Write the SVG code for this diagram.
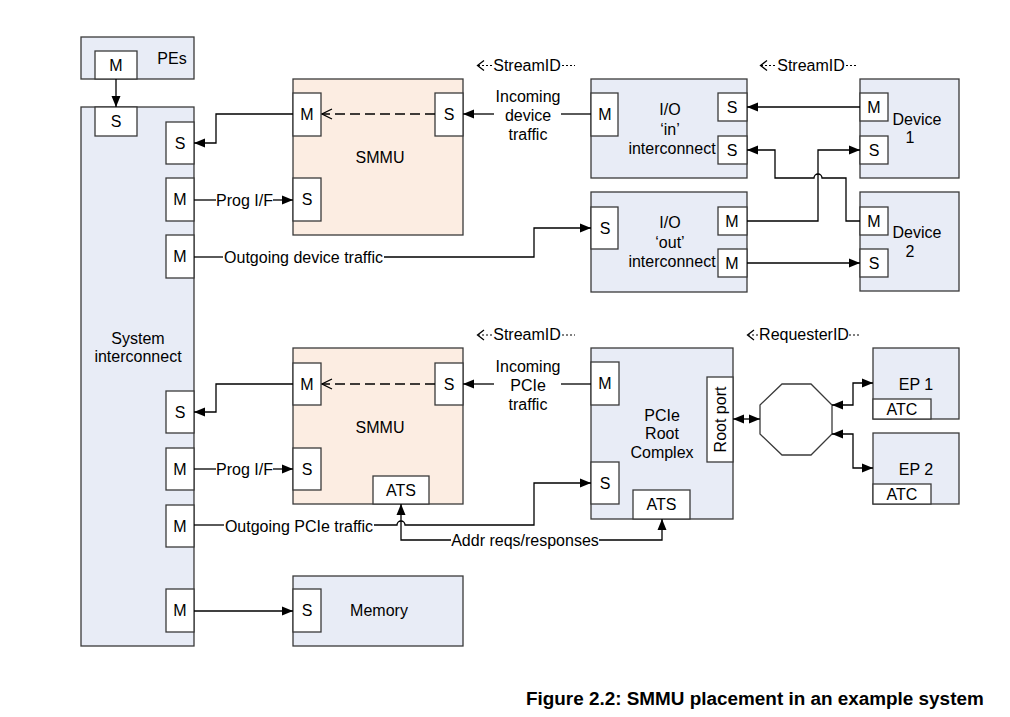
<svg xmlns="http://www.w3.org/2000/svg" width="1010" height="717" viewBox="0 0 1010 717">
<style>
text{font-family:"Liberation Sans",Arial,sans-serif;font-size:16px;fill:#000;text-anchor:middle}
.blue{fill:#e8ecf6;stroke:#3a3a3a;stroke-width:1.3}
.peach{fill:#fcede2;stroke:#3a3a3a;stroke-width:1.3}
.port{fill:#fff;stroke:#3a3a3a;stroke-width:1.3}
.c{fill:none;stroke:#000;stroke-width:1.3}
.a{marker-end:url(#arr)}
.d{marker-start:url(#arr);marker-end:url(#arr)}
.dash{fill:none;stroke:#000;stroke-width:1.3;stroke-dasharray:10,5;marker-end:url(#open)}
.dot{fill:none;stroke:#000;stroke-width:1;stroke-dasharray:2,2}
.cap{font-weight:bold;font-size:18.9px;text-anchor:start}
</style>
<defs>
<marker id="arr" markerUnits="userSpaceOnUse" markerWidth="12" markerHeight="10" refX="11" refY="5" orient="auto-start-reverse">
<path d="M0,0.5 L11,5 L0,9.5 Z" fill="#000"/>
</marker>
<marker id="open" markerUnits="userSpaceOnUse" markerWidth="12" markerHeight="12" refX="11" refY="6" orient="auto">
<path d="M1,1 L11,6 L1,11" fill="none" stroke="#000" stroke-width="1.3"/>
</marker>
</defs>
<rect width="1010" height="717" fill="#fff"/>

<g id="pes">
<rect class="blue" x="81" y="37" width="113" height="42"/>
<rect class="port" x="95" y="51" width="42" height="28"/>
<text x="116" y="71">M</text>
<text x="172" y="64">PEs</text>
</g>

<g id="system-interconnect">
<rect class="blue" x="81" y="107" width="113" height="539"/>
<rect class="port" x="95" y="107" width="42" height="29"/>
<text x="116" y="127">S</text>
<rect class="port" x="166" y="122" width="28" height="42"/>
<text x="180" y="149">S</text>
<rect class="port" x="166" y="178" width="28" height="43"/>
<text x="180" y="205">M</text>
<rect class="port" x="166" y="235" width="28" height="43"/>
<text x="180" y="262">M</text>
<rect class="port" x="166" y="391" width="28" height="42"/>
<text x="180" y="418">S</text>
<rect class="port" x="166" y="448" width="28" height="42"/>
<text x="180" y="475">M</text>
<rect class="port" x="166" y="505" width="28" height="42"/>
<text x="180" y="532">M</text>
<rect class="port" x="166" y="589" width="28" height="43"/>
<text x="180" y="616">M</text>
<text x="138" y="344">System</text>
<text x="138" y="362">interconnect</text>
</g>

<g id="smmu1">
<rect class="peach" x="293" y="79" width="170" height="156"/>
<rect class="port" x="293" y="93" width="28" height="43"/>
<text x="307" y="120">M</text>
<rect class="port" x="435" y="93" width="28" height="43"/>
<text x="449" y="120">S</text>
<rect class="port" x="293" y="178" width="28" height="43"/>
<text x="307" y="205">S</text>
<text x="380" y="163">SMMU</text>
</g>

<g id="smmu2">
<rect class="peach" x="293" y="348" width="170" height="156"/>
<rect class="port" x="293" y="363" width="28" height="42"/>
<text x="307" y="390">M</text>
<rect class="port" x="435" y="363" width="28" height="42"/>
<text x="449" y="390">S</text>
<rect class="port" x="293" y="448" width="28" height="42"/>
<text x="307" y="475">S</text>
<rect class="port" x="373" y="476" width="56" height="28"/>
<text x="401" y="496">ATS</text>
<text x="380" y="433">SMMU</text>
</g>

<g id="memory">
<rect class="blue" x="293" y="576" width="170" height="70"/>
<rect class="port" x="293" y="589" width="28" height="43"/>
<text x="307" y="616">S</text>
<text x="379" y="616">Memory</text>
</g>

<g id="io-in">
<rect class="blue" x="591" y="79" width="156" height="99"/>
<rect class="port" x="591" y="93" width="27" height="43"/>
<text x="605" y="120">M</text>
<rect class="port" x="718" y="93" width="29" height="28"/>
<text x="732" y="113">S</text>
<rect class="port" x="718" y="136" width="29" height="28"/>
<text x="732" y="156">S</text>
<text x="670" y="115">I/O</text>
<text x="670" y="135">‘in’</text>
<text x="672" y="154">interconnect</text>
</g>

<g id="io-out">
<rect class="blue" x="591" y="192" width="156" height="100"/>
<rect class="port" x="591" y="207" width="27" height="42"/>
<text x="605" y="234">S</text>
<rect class="port" x="718" y="207" width="29" height="28"/>
<text x="732" y="227">M</text>
<rect class="port" x="718" y="249" width="29" height="28"/>
<text x="732" y="269">M</text>
<text x="670" y="228">I/O</text>
<text x="670" y="248">‘out’</text>
<text x="672" y="267">interconnect</text>
</g>

<g id="device1">
<rect class="blue" x="860" y="79" width="99" height="99"/>
<rect class="port" x="860" y="93" width="28" height="28"/>
<text x="874" y="113">M</text>
<rect class="port" x="860" y="136" width="28" height="28"/>
<text x="874" y="156">S</text>
<text x="917" y="125">Device</text>
<text x="910" y="143">1</text>
</g>

<g id="device2">
<rect class="blue" x="860" y="192" width="99" height="99"/>
<rect class="port" x="860" y="207" width="28" height="28"/>
<text x="874" y="227">M</text>
<rect class="port" x="860" y="249" width="28" height="28"/>
<text x="874" y="269">S</text>
<text x="917" y="238">Device</text>
<text x="910" y="257">2</text>
</g>

<g id="pcie-root-complex">
<rect class="blue" x="591" y="348" width="142" height="171"/>
<rect class="port" x="591" y="362" width="28" height="43"/>
<text x="605" y="389">M</text>
<rect class="port" x="591" y="462" width="28" height="42"/>
<text x="605" y="489">S</text>
<rect class="port" x="633" y="490" width="57" height="29"/>
<text x="661.5" y="510">ATS</text>
<rect class="port" x="707" y="377" width="26" height="85"/>
<text transform="translate(725.5,419.5) rotate(-90)">Root port</text>
<text x="662" y="421">PCIe</text>
<text x="662" y="439">Root</text>
<text x="662" y="458">Complex</text>
</g>

<g id="switch">
<polygon points="782,384 811,384 832,405 832,434 811,455 782,455 760,434 760,405" fill="#fff" stroke="#3a3a3a" stroke-width="1.3"/>
</g>

<g id="ep1">
<rect class="blue" x="873" y="348" width="86" height="71"/>
<rect class="port" x="873" y="399" width="58" height="20"/>
<text x="902" y="415">ATC</text>
<text x="916" y="390">EP 1</text>
</g>

<g id="ep2">
<rect class="blue" x="873" y="433" width="86" height="71"/>
<rect class="port" x="873" y="484" width="58" height="20"/>
<text x="902" y="500">ATC</text>
<text x="916" y="475">EP 2</text>
</g>

<g id="id-labels">
<path class="c" d="M484,60.5 L477.5,65.5 L484,70.5"/>
<path class="dot" d="M478,65.5 H492"/>
<text x="527" y="70.5">StreamID</text>
<path class="dot" d="M562,65.5 H575"/>
<path class="c" d="M767,60.5 L760.5,65.5 L767,70.5"/>
<path class="dot" d="M761,65.5 H776"/>
<text x="811" y="70.5">StreamID</text>
<path class="dot" d="M846,65.5 H858"/>
<path class="c" d="M484,330 L477.5,335 L484,340"/>
<path class="dot" d="M478,335 H492"/>
<text x="527" y="340">StreamID</text>
<path class="dot" d="M562,335 H575"/>
<path class="c" d="M754,330 L747.5,335 L754,340"/>
<path class="dot" d="M748,335 H759"/>
<text x="804" y="340">RequesterID</text>
<path class="dot" d="M849,335 H861"/>
</g>

<g id="connectors">
<path class="c a" d="M116,79 V107"/>
<path class="c a" d="M293,114 H216 V143 H194"/>
<path class="dash" d="M435,114 H322"/>
<path class="c" d="M194,200 H216"/>
<path class="c a" d="M273,200 H293"/>
<path class="c" d="M194,257 H223"/>
<path class="c a" d="M384,257 H534 V228 H591"/>
<path class="c" d="M591,114 H561"/>
<path class="c a" d="M494,114 H463"/>
<path class="c a" d="M860,107 H747"/>
<path class="c a" d="M860,221 H846 V178 H822 A4,4 0 0 0 814,178 H775 V150 H747"/>
<path class="c a" d="M747,221 H818 V150 H860"/>
<path class="c a" d="M747,263 H860"/>
<path class="c a" d="M293,384 H216 V412 H194"/>
<path class="dash" d="M435,384 H322"/>
<path class="c" d="M194,469 H216"/>
<path class="c a" d="M273,469 H293"/>
<path class="c" d="M591,384 H561"/>
<path class="c a" d="M494,384 H463"/>
<path class="c" d="M194,525 H224"/>
<path class="c a" d="M374,525 H397 A4,4 0 0 1 405,525 H534 V483 H591"/>
<path class="c a" d="M451,540 H401 V504"/>
<path class="c a" d="M599,540 H662 V519"/>
<path class="c d" d="M733,419 H760"/>
<path class="c d" d="M832,405 H853 V383 H873"/>
<path class="c d" d="M832,434 H853 V468 H873"/>
<path class="c a" d="M194,611 H293"/>
</g>

<g id="connector-labels">
<text x="244.5" y="205.5">Prog I/F</text>
<text x="244.5" y="474.5">Prog I/F</text>
<text x="303.5" y="262.5">Outgoing device traffic</text>
<text x="299" y="531.5">Outgoing PCIe traffic</text>
<text x="525" y="545.5">Addr reqs/responses</text>
<text x="528" y="102">Incoming</text>
<text x="528" y="121">device</text>
<text x="528" y="140">traffic</text>
<text x="528" y="372">Incoming</text>
<text x="528" y="391">PCIe</text>
<text x="528" y="409.5">traffic</text>
</g>

<text class="cap" x="526" y="705">Figure 2.2: SMMU placement in an example system</text>
</svg>
